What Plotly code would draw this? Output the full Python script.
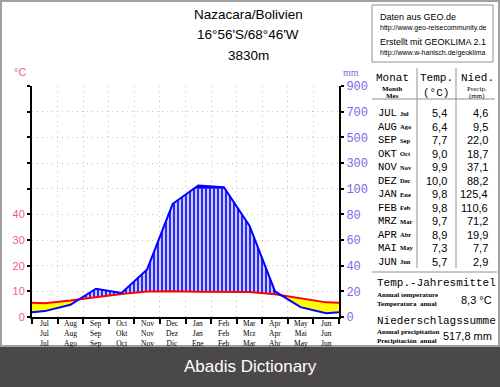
import plotly.graph_objects as go

# ---------------- data ----------------
months_en = ["Jul", "Aug", "Sep", "Oct", "Nov", "Dec", "Jan", "Feb", "Mar", "Apr", "May", "Jun"]
months_de = ["Jul", "Aug", "Sep", "Okt", "Nov", "Dez", "Jan", "Feb", "Mrz", "Apr", "Mai", "Jun"]
months_es = ["Jul", "Ago", "Sep", "Oct", "Nov", "Dic", "Ene", "Feb", "Mar", "Abr", "May", "Jun"]
table_de = ["JUL", "AUG", "SEP", "OKT", "NOV", "DEZ", "JAN", "FEB", "MRZ", "APR", "MAI", "JUN"]
table_es = ["Jul", "Ago", "Sep", "Oct", "Nov", "Dec", "Ene", "Feb", "Mar", "Abr", "May", "Jun"]
temp = [5.4, 6.4, 7.7, 9.0, 9.9, 10.0, 9.8, 9.8, 9.7, 8.9, 7.3, 5.7]
precip = [4.6, 9.5, 22.0, 18.7, 37.1, 88.2, 125.4, 110.6, 71.2, 19.9, 7.7, 2.9]
temp_ticks = [0, 10, 20, 30, 40, 50, 60, 70, 80, 90]
temp_labels = ["0", "10", "20", "30", "40", "", "", "", "", ""]
precip_labels = ["0", "20", "40", "60", "80", "100", "300", "500", "700", "900"]
annual_temp = "8,3 °C"
annual_precip = "517,8 mm"

W, H = 500, 387
PX = lambda x: x / W
PY = lambda y: 1 - y / H


def scale(p):
    return p / 2 if p <= 100 else 50 + (p - 100) / 20


# curves drawn across full width (edges at mean of Jun/Jul)
xs = [-0.5] + list(range(12)) + [11.5]
ts = [(temp[0] + temp[-1]) / 2] + temp + [(temp[0] + temp[-1]) / 2]
sp = [scale(p) for p in precip]
ps = [(sp[0] + sp[-1]) / 2] + sp + [(sp[0] + sp[-1]) / 2]


def refine(xs, ts, ps, mode):
    def d(t, p):
        return p - t if mode == "temp" else p - 50
    ox, ot, op = [xs[0]], [ts[0]], [ps[0]]
    for i in range(1, len(xs)):
        d0, d1 = d(ts[i - 1], ps[i - 1]), d(ts[i], ps[i])
        if d0 * d1 < 0:
            f = d0 / (d0 - d1)
            ox.append(xs[i - 1] + f * (xs[i] - xs[i - 1]))
            ot.append(ts[i - 1] + f * (ts[i] - ts[i - 1]))
            op.append(ps[i - 1] + f * (ps[i] - ps[i - 1]))
        ox.append(xs[i]); ot.append(ts[i]); op.append(ps[i])
    return ox, ot, op


rx, rt, rp = refine(xs, ts, ps, "temp")
rx, rt, rp = refine(rx, rt, rp, "wet")

fig = go.Figure()
inv = dict(width=0)
# arid (yellow)
fig.add_trace(go.Scatter(x=rx, y=rt, mode="lines", line=inv, hoverinfo="skip"))
fig.add_trace(go.Scatter(x=rx, y=[min(p, t) for p, t in zip(rp, rt)], mode="lines", line=inv,
                         fill="tonexty", fillcolor="#ffff00", hoverinfo="skip"))
# humid (hatched)
fig.add_trace(go.Scatter(x=rx, y=rt, mode="lines", line=inv, hoverinfo="skip"))
fig.add_trace(go.Scatter(x=rx, y=[max(t, min(p, 50)) for p, t in zip(rp, rt)], mode="lines", line=inv,
                         fill="tonexty", fillcolor="#ccccf6",
                         fillpattern=dict(shape="|", fgcolor="#0000ff", bgcolor="#ccccf6",
                                          size=4, solidity=0.4, fillmode="replace"),
                         hoverinfo="skip"))
# perhumid (solid)
fig.add_trace(go.Scatter(x=rx, y=[50] * len(rx), mode="lines", line=inv, hoverinfo="skip"))
fig.add_trace(go.Scatter(x=rx, y=[max(p, 50) for p in rp], mode="lines", line=inv,
                         fill="tonexty", fillcolor="#0000ff", hoverinfo="skip"))
# lines
fig.add_trace(go.Scatter(x=xs, y=ps, mode="lines", line=dict(color="#0000ff", width=2), yaxis="y2"))
fig.add_trace(go.Scatter(x=xs, y=ts, mode="lines", line=dict(color="#ff0000", width=2)))

x0, x1 = 32, 339
y_top, y_bot = 86, 317
GRID = "#c4c4c4"
GDASH = "1px,4px"

fig.update_layout(
    width=W, height=H, autosize=False,
    margin=dict(l=0, r=0, t=0, b=0, pad=0),
    paper_bgcolor="white", plot_bgcolor="white",
    showlegend=False,
    xaxis=dict(domain=[PX(x0), PX(x1)], range=[-0.5, 11.5], showticklabels=False, automargin=False,
               tickmode="linear", tick0=0, dtick=1, ticks="", showgrid=False, zeroline=False,
               showline=True, linecolor="black", linewidth=2,
               minor=dict(tick0=-0.5, dtick=1, ticks="outside", ticklen=5, tickwidth=1.5,
                          tickcolor="black", showgrid=True, gridcolor=GRID,
                          griddash=GDASH, gridwidth=1)),
    yaxis=dict(domain=[PY(y_bot), PY(y_top)], range=[0, 90], tickvals=temp_ticks, automargin=False,
               ticktext=temp_labels, ticks="outside", ticklen=3, tickwidth=1.5, tickcolor="black",
               showline=True, linecolor="black", linewidth=2, zeroline=False,
               showgrid=True, gridcolor=GRID, griddash=GDASH, gridwidth=1,
               tickfont=dict(family="Liberation Sans", size=11, color="#ee6080")),
    yaxis2=dict(overlaying="y", side="right", anchor="x", range=[0, 90], tickvals=temp_ticks,
                automargin=False,
                ticktext=precip_labels, ticks="outside", ticklen=3, tickwidth=1.5, tickcolor="black",
                showline=True, linecolor="black", linewidth=2, zeroline=False, showgrid=False,
                tickfont=dict(family="Liberation Mono", size=12, color="#7a6ae6")),
)

anns = []


def ann(text, x, y, size, family="Liberation Sans", color="black", xanchor="center", **kw):
    anns.append(dict(text=text, x=PX(x), y=PY(y), xref="paper", yref="paper", showarrow=False,
                     xanchor=xanchor, yanchor="middle", font=dict(size=size, family=family, color=color), **kw))


# title
ann("Nazacara/Bolivien", 248, 15, 13.5)
ann("16°56'S/68°46'W", 248, 35, 13.5)
ann("3830m", 248, 55, 13.5)
ann("°C", 20, 72, 11, color="#ee6080")
ann("mm", 351, 72, 10, family="Liberation Serif", color="#7a6ae6")

# month labels under axis (three languages)
for i in range(12):
    anns.append(dict(text=months_en[i] + "<br>" + months_de[i] + "<br>" + months_es[i],
                     x=i, y=PY(318), xref="x", yref="paper",
                     showarrow=False, xanchor="center", yanchor="top", borderpad=0,
                     font=dict(size=7.5, family="Liberation Serif", color="black")))

# GEO box
ann("Daten aus GEO.de", 378, 17, 9, xanchor="left")
ann("http://www.geo-reisecommunity.de", 378, 28, 7, xanchor="left")
ann("Erstellt mit GEOKLIMA 2.1", 378, 42, 9, xanchor="left")
ann("http://www.w-hanisch.de/geoklima", 378, 53, 7, xanchor="left")

# table header
mono = "Liberation Mono"
serif_b = "Liberation Serif"
ann("Monat", 392, 78, 11, family=mono)
ann("<b>Month</b>", 392, 89, 7, family=serif_b)
ann("<b>Mes</b>", 392, 96, 7, family=serif_b)
ann("Temp.", 436, 78, 11, family=mono)
ann("(°C)", 436, 93, 11, family=mono)
ann("Nied.", 477, 78, 11, family=mono)
ann("Precip.", 477, 89, 7, family=serif_b)
ann("(mm)", 477, 96, 7, family=serif_b)

for i in range(12):
    y = 113 + 13.5 * i
    ann(table_de[i], 376, y, 10.5, family=mono, xanchor="left")
    ann("<b>" + table_es[i] + "</b>", 398, y, 6.5, family=serif_b, xanchor="left")
    ann(f"{temp[i]:.1f}".replace(".", ","), 449, y, 11, xanchor="right")
    ann(f"{precip[i]:.1f}".replace(".", ","), 490, y, 11, xanchor="right")

ann("Temp.-Jahresmittel", 375, 283, 11, family=mono, xanchor="left")
ann("<b>Annual temperature</b>", 375, 295, 7, family=serif_b, xanchor="left")
ann("<b>Temperatura  anual</b>", 375, 304, 7, family=serif_b, xanchor="left")
ann(annual_temp, 494, 300, 11, xanchor="right")
ann("Niederschlagssumme", 375, 321, 11, family=mono, xanchor="left")
ann("<b>Annual precipitation</b>", 375, 332, 7, family=serif_b, xanchor="left")
ann("<b>Precipitación  anual</b>", 375, 341, 7, family=serif_b, xanchor="left")
ann(annual_precip, 494, 336, 11, xanchor="right")

ann("Abadis Dictionary", 250, 366, 17, color="white")

shapes = [
    dict(type="rect", xref="paper", yref="paper", x0=PX(1), x1=PX(499), y0=PY(346), y1=PY(1),
         line=dict(color="#a0a0a0", width=2)),
    dict(type="rect", xref="paper", yref="paper", x0=PX(372), x1=PX(493), y0=PY(62), y1=PY(5),
         line=dict(color="#909090", width=1)),
    dict(type="line", xref="paper", yref="paper", x0=PX(417), x1=PX(417), y0=PY(268), y1=PY(68),
         line=dict(color="#909090", width=1)),
    dict(type="line", xref="paper", yref="paper", x0=PX(456), x1=PX(456), y0=PY(268), y1=PY(68),
         line=dict(color="#909090", width=1)),
    dict(type="line", xref="paper", yref="paper", x0=PX(372), x1=PX(495), y0=PY(99), y1=PY(99),
         line=dict(color="#909090", width=1)),
    dict(type="line", xref="paper", yref="paper", x0=PX(372), x1=PX(497), y0=PY(272), y1=PY(272),
         line=dict(color="#909090", width=1)),
    dict(type="rect", xref="paper", yref="paper", x0=0, x1=1, y0=0, y1=PY(347),
         line=dict(width=0), fillcolor="#4b4849", layer="below"),
]
fig.update_layout(annotations=anns, shapes=shapes)

fig.write_html(
    "out.html",
    config={"displayModeBar": False},
    post_script="document.body.style.margin='0';document.body.style.overflow='hidden';",
)
